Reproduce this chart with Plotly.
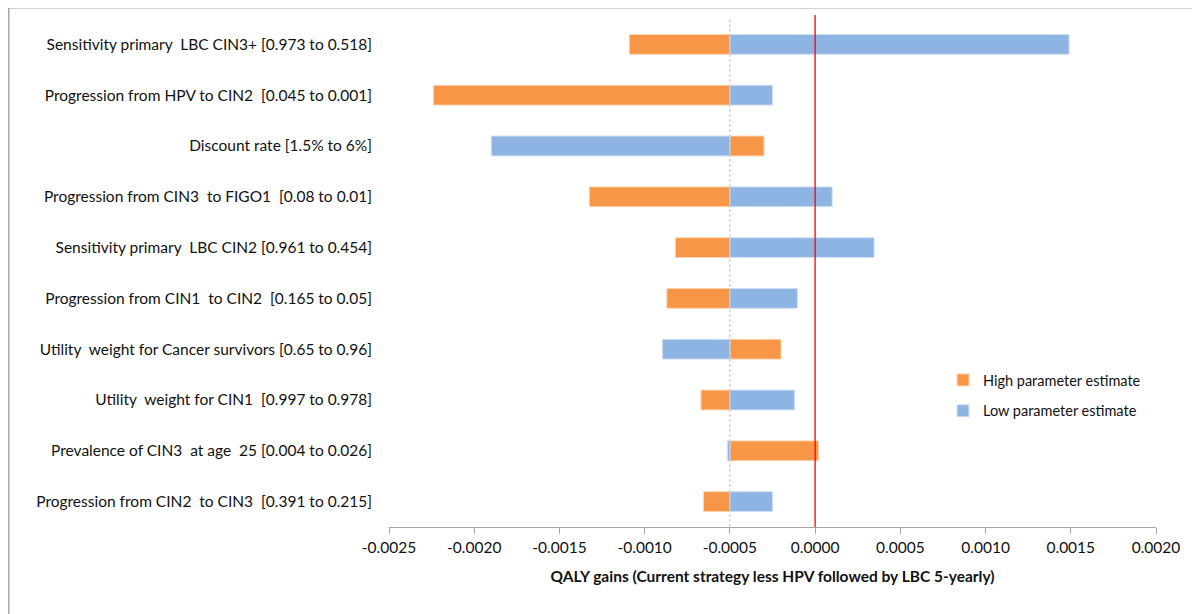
import plotly.graph_objects as go

categories = [
    "Sensitivity primary  LBC CIN3+ [0.973 to 0.518]",
    "Progression from HPV to CIN2  [0.045 to 0.001]",
    "Discount rate [1.5% to 6%]",
    "Progression from CIN3  to FIGO1  [0.08 to 0.01]",
    "Sensitivity primary  LBC CIN2 [0.961 to 0.454]",
    "Progression from CIN1  to CIN2  [0.165 to 0.05]",
    "Utility  weight for Cancer survivors [0.65 to 0.96]",
    "Utility  weight for CIN1  [0.997 to 0.978]",
    "Prevalence of CIN3  at age  25 [0.004 to 0.026]",
    "Progression from CIN2  to CIN3  [0.391 to 0.215]",
]
high_values = [-0.00109, -0.00224, -0.00030, -0.001325, -0.00082,
               -0.00087, -0.00020, -0.00067, 0.00002, -0.000655]
low_values = [0.00149, -0.00025, -0.00190, 0.00010, 0.000346,
              -0.000104, -0.000896, -0.00012, -0.000515, -0.00025]
base_value = -0.0005
tick_vals = [-0.0025, -0.0020, -0.0015, -0.0010, -0.0005, 0.0,
             0.0005, 0.0010, 0.0015, 0.0020]
tick_labels = ["-0.0025", "-0.0020", "-0.0015", "-0.0010", "-0.0005",
               "0.0000", "0.0005", "0.0010", "0.0015", "0.0020"]

ORANGE = "#F79646"
BLUE = "#8EB4E3"
FONT = "Lato"
FS = 15.5

fig = go.Figure()
fig.add_trace(go.Bar(
    y=categories, x=[v - base_value for v in high_values], base=base_value,
    orientation="h", name="High parameter estimate", legendgroup="h",
    marker=dict(color=ORANGE, line=dict(color="#FBD5B5", width=1)),
    width=0.39,
))
fig.add_trace(go.Bar(
    y=categories, x=[v - base_value for v in low_values], base=base_value,
    orientation="h", name="Low parameter estimate", legendgroup="l",
    marker=dict(color=BLUE, line=dict(color="#D0DFF2", width=1)),
    width=0.39,
))

OFF = 8  # page body margin
W, H = 1200 - OFF, 614 - OFF
L, T = 389 - OFF, 19 - OFF
R = W - (1156 - OFF)
B = H - (527 - OFF)
pw, ph = W - L - R, H - T - B

def px(xp):
    return (xp - OFF - L) / pw

def py(yp):
    return (H - B - (yp - OFF)) / ph

fig.update_layout(
    width=W, height=H,
    margin=dict(l=L, r=R, t=T, b=B),
    barmode="overlay",
    plot_bgcolor="white", paper_bgcolor="white",
    font=dict(family=FONT, size=FS, color="#111111"),
    showlegend=True,
    legend=dict(x=px(943), y=py(364), xanchor="left", yanchor="top",
                bgcolor="rgba(0,0,0,0)", font=dict(size=14.5, family=FONT),
                traceorder="grouped", itemwidth=30, tracegroupgap=9),
    xaxis=dict(
        range=[-0.0025, 0.0020], tickvals=tick_vals, ticktext=tick_labels,
        showgrid=False, zeroline=False,
        showline=True, linecolor="#A6A6A6", linewidth=1,
        ticks="outside", ticklen=6, tickcolor="#A6A6A6",
        tickfont=dict(size=FS, family=FONT),
        title=dict(text="<b>QALY gains (Current strategy less HPV followed by LBC 5-yearly)</b>",
                   font=dict(size=FS, family=FONT), standoff=16),
    ),
    yaxis=dict(
        categoryorder="array", categoryarray=categories, autorange="reversed",
        showgrid=False, zeroline=False, showline=False, ticks="",
        ticklabelstandoff=16, tickfont=dict(size=FS, family=FONT),
    ),
    shapes=[
        dict(type="line", xref="x", yref="paper", x0=base_value, x1=base_value,
             y0=0, y1=1, line=dict(color="#BFBFBF", width=1, dash="3px,2px"), layer="above"),
        dict(type="line", xref="x", yref="paper", x0=0, x1=0,
             y0=0, y1=py(15), line=dict(color="#FF0000", width=1.3), layer="above"),
        dict(type="line", xref="paper", yref="paper",
             x0=px(8.5), x1=px(1200), y0=py(7.5), y1=py(7.5),
             line=dict(color="#A6A6A6", width=2)),
        dict(type="line", xref="paper", yref="paper",
             x0=px(8.5), x1=px(8.5), y0=py(614), y1=py(7.5),
             line=dict(color="#A6A6A6", width=2)),
    ],
)

fig.write_html("out.html")
